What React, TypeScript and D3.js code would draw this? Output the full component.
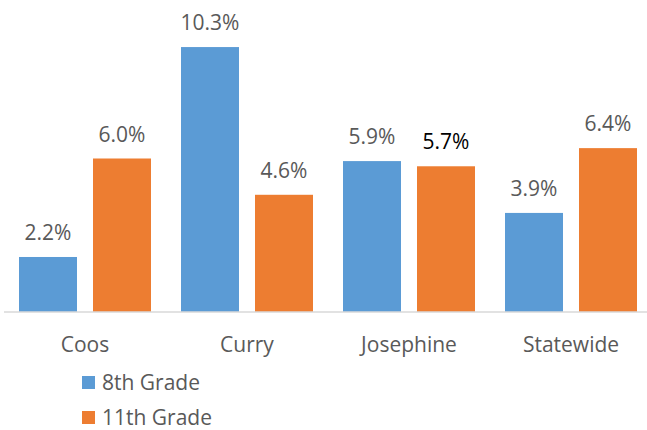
import React from "react";
import * as d3 from "d3";

const categories = ["Coos", "Curry", "Josephine", "Statewide"];
const seriesNames = ["8th Grade", "11th Grade"];
const grade8 = [2.2, 10.3, 5.9, 3.9];
const grade11 = [6.0, 4.6, 5.7, 6.4];
const labels8 = ["2.2%", "10.3%", "5.9%", "3.9%"];
const labels11 = ["6.0%", "4.6%", "5.7%", "6.4%"];
const colors = ["#5B9BD5", "#ED7D31"];

const W = 647;
const H = 430;
const FONT = "'Open Sans', Calibri, sans-serif";

export default function App() {
  const x0 = d3.scaleBand<string>().domain(categories).range([4, 652]).padding(0);
  const inner = d3
    .scaleBand<string>()
    .domain(seriesNames)
    .range([15, x0.bandwidth() - 15])
    .paddingInner(16 / 74)
    .paddingOuter(0);
  const y = d3.scaleLinear().domain([0, 12]).range([314, 3]);
  const base = y(0) - 2;

  const series = [
    { name: seriesNames[0], values: grade8, labels: labels8, color: colors[0] },
    { name: seriesNames[1], values: grade11, labels: labels11, color: colors[1] },
  ];

  return (
    <svg
      width={W}
      height={H}
      style={{ position: "absolute", left: 0, top: 0, background: "#fff" }}
      fontFamily={FONT}
    >
      <rect width={W} height={H} fill="#fff" />
      {series.map((s) =>
        s.values.map((v, i) => {
          const bx = (x0(categories[i]) ?? 0) + (inner(s.name) ?? 0);
          const bw = inner.bandwidth();
          const top = y(v);
          return (
            <g key={s.name + i}>
              <rect x={bx} y={top} width={bw} height={base - top} fill={s.color} />
              <text
                x={bx + bw / 2}
                y={top - 17}
                textAnchor="middle"
                fontSize={21}
                fill={s.name === "11th Grade" && categories[i] === "Josephine" ? "#000" : "#595959"}
              >
                {s.labels[i]}
              </text>
            </g>
          );
        })
      )}
      <line x1={4} x2={647} y1={base} y2={base} stroke="#d9d9d9" strokeWidth={1.5} />
      {categories.map((c) => (
        <text
          key={c}
          x={(x0(c) ?? 0) + x0.bandwidth() / 2}
          y={352}
          textAnchor="middle"
          fontSize={21}
          fill="#595959"
        >
          {c}
        </text>
      ))}
      {series.map((s, i) => (
        <g key={s.name} transform={`translate(82, ${376 + i * 35})`}>
          <rect x={0} y={0} width={13} height={13} fill={s.color} />
          <text x={20} y={14} fontSize={21} fill="#595959">
            {s.name}
          </text>
        </g>
      ))}
    </svg>
  );
}
